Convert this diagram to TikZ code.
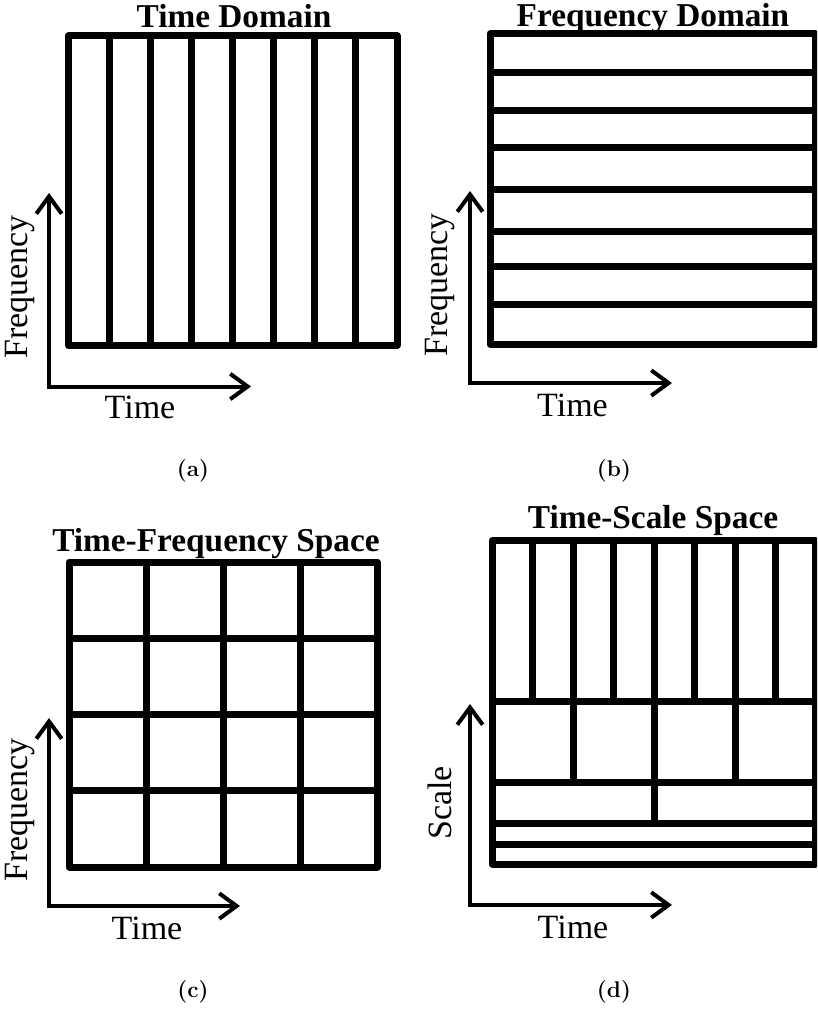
\documentclass[tikz,border=0pt]{standalone}
\usepackage{fontspec}
\usetikzlibrary{arrows.meta}
\newfontfamily\plotfont{Liberation Serif}

\begin{document}
\begin{tikzpicture}[x=0.75pt,y=-0.75pt,
    frame/.style={line width=5.25pt,line join=round},
    axis/.style={line width=3pt,
      {Straight Barb[length=13pt,width=19pt]}-{Straight Barb[length=13pt,width=19pt]}},
    paneltitle/.style={anchor=base,font=\plotfont\bfseries\fontsize{25}{30}\selectfont},
    axlabel/.style={font=\plotfont\fontsize{25.5}{30}\selectfont},
    subcap/.style={font=\bfseries\fontsize{17}{20}\selectfont}]

  \useasboundingbox (0,0) rectangle (817,1009);
  \clip (0,0) rectangle (817,1009);

  % (a) time domain
  \foreach \i in {1,...,7}
    \draw[frame] ({68.5+41.06*\i},36) -- ({68.5+41.06*\i},345.5);
  \draw[frame] (68.5,36) rectangle (397,345.5);
  \node[paneltitle] (titleA) at (234,28) {Time Domain};
  \coordinate (oA) at (49,386.5);
  \coordinate (fA) at (49,193);
  \coordinate (tA) at (251,386.5);
  \draw[axis] (fA) -- (oA) -- (tA);
  \node[axlabel,rotate=90] (freqA) at (20,287) {Frequency};
  \node[axlabel] (timeA) at (140,407) {Time};
  \node[subcap] (capA) at (193,471) {(a)};

  % (b) frequency domain
  \foreach \y in {73,110.5,148,189.5,232,266.5,304}
    \draw[frame] (490,\y) -- (815,\y);
  \draw[frame] (490,34) rectangle (815,344.5);
  \node[paneltitle] (titleB) at (653,27) {Frequency Domain};
  \coordinate (oB) at (470,383);
  \coordinate (fB) at (470,191);
  \coordinate (tB) at (672,383);
  \draw[axis] (fB) -- (oB) -- (tB);
  \node[axlabel,rotate=90] (freqB) at (440,285) {Frequency};
  \node[axlabel] (timeB) at (572.5,405) {Time};
  \node[subcap] (capB) at (614,471) {(b)};

  % (c) time-frequency grid
  \foreach \i in {1,2,3} {
    \draw[frame] ({69+77.1*\i},562) -- ({69+77.1*\i},867);
    \draw[frame] (69,{562+76.25*\i}) -- (377.5,{562+76.25*\i});
  }
  \draw[frame] (69,562) rectangle (377.5,867);
  \node[paneltitle] (titleC) at (216,551.5) {Time-Frequency Space};
  \coordinate (oC) at (49,906);
  \coordinate (fC) at (49,718);
  \coordinate (tC) at (240,906);
  \draw[axis] (fC) -- (oC) -- (tC);
  \node[axlabel,rotate=90] (freqC) at (20,810) {Frequency};
  \node[axlabel] (timeC) at (147,928) {Time};
  \node[subcap] (capC) at (193,992) {(c)};

  % (d) time-scale tiling
  \foreach \i in {1,...,7}
    \draw[frame] ({492+40.5*\i},540.5) -- ({492+40.5*\i},701.7);
  \foreach \i in {2,4,6}
    \draw[frame] ({492+40.5*\i},701.7) -- ({492+40.5*\i},782.7);
  \draw[frame] (654,782.7) -- (654,823.3);
  \foreach \y in {701.7,782.7,823.3,844}
    \draw[frame] (492,\y) -- (815,\y);
  \draw[frame] (492,540.5) rectangle (815,864);
  \node[paneltitle] (titleD) at (653,528) {Time-Scale Space};
  \coordinate (oD) at (470,905);
  \coordinate (fD) at (470,704);
  \coordinate (tD) at (672,905);
  \draw[axis] (fD) -- (oD) -- (tD);
  \node[axlabel,rotate=90] (scaleD) at (440,803) {Scale};
  \node[axlabel] (timeD) at (573,927) {Time};
  \node[subcap] (capD) at (614,992) {(d)};

\end{tikzpicture}
\end{document}
